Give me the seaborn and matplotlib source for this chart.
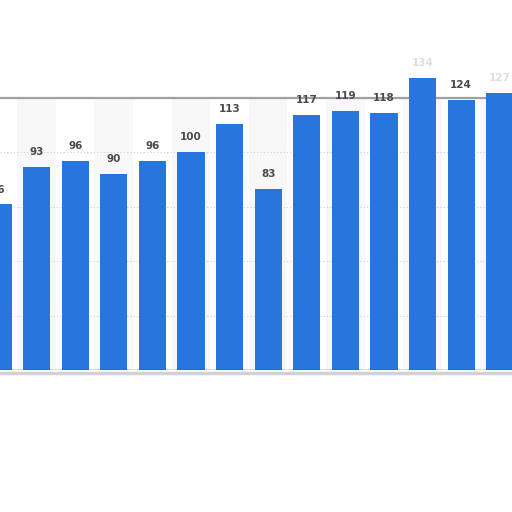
import matplotlib
matplotlib.use('Agg')
import matplotlib.pyplot as plt
import numpy as np
import pandas as pd
import seaborn as sns

# bars, left to right (first and last are cut off in the picture)
positions = list(range(14))
values = [76, 93, 96, 90, 96, 100, 113, 83, 117, 119, 118, 134, 124, 127]
labels = ['76', '93', '96', '90', '96', '100', '113', '83', '117', '119', '118', '134', '124', '127']
faint = [False] * 11 + [True, False, True]  # labels smeared in the picture
grid_ticks = [25, 50, 75, 100]
frame_top = 125

bar_color = '#2876dd'
label_color = '#4a4a4a'

sns.set_theme(style='white')
plt.rcParams['font.family'] = ['DejaVu Sans']

df = pd.DataFrame({'pos': positions, 'value': values})

px_per_unit = 2.18
y_top = 160
fig = plt.figure(figsize=(5.12, 5.12), dpi=100)
ax = fig.add_axes([0.0, (512 - 370) / 512, 1.0, y_top * px_per_unit / 512])

# alternating light column bands inside the frame
for p in positions:
    if p % 2 == 1:
        ax.fill_between([p - 0.5, p + 0.5], 0, frame_top, color='#f8f8f8', zorder=0, lw=0)

for t in grid_ticks:
    ax.axhline(t, linestyle=(0, (1, 2)), color='#cfcfcf', linewidth=0.8, zorder=1)

sns.barplot(data=df, x='pos', y='value', color=bar_color, width=0.7,
            saturation=1, ax=ax, zorder=3, native_scale=True, linewidth=0)

for p, v, lab, f in zip(positions, values, labels, faint):
    ax.text(p, v + 4.5, lab, ha='center', va='bottom', fontsize=7.5,
            fontweight='bold', color='#c8c8c8' if f else label_color,
            alpha=0.6 if f else 1.0, zorder=4)

# frame top edge and bottom baseline
ax.axhline(frame_top, color='#a0a0a0', linewidth=1.6, zorder=2)
ax.axhline(-1.2, color='#d2d2d2', linewidth=2.5, clip_on=False, zorder=1)
ax.axhline(0, color='#3a4a60', linewidth=1.0, zorder=5)

ax.set_xlim(0.052, 0.052 + 512 / 38.6)
ax.set_ylim(0, y_top)
ax.set_xlabel('')
ax.set_ylabel('')
ax.set_xticks([])
ax.set_yticks([])
ax.tick_params(left=False, bottom=False)
for side in ['left', 'right', 'top', 'bottom']:
    ax.spines[side].set_visible(False)

fig.savefig('out.png', dpi=100)
plt.close(fig)
